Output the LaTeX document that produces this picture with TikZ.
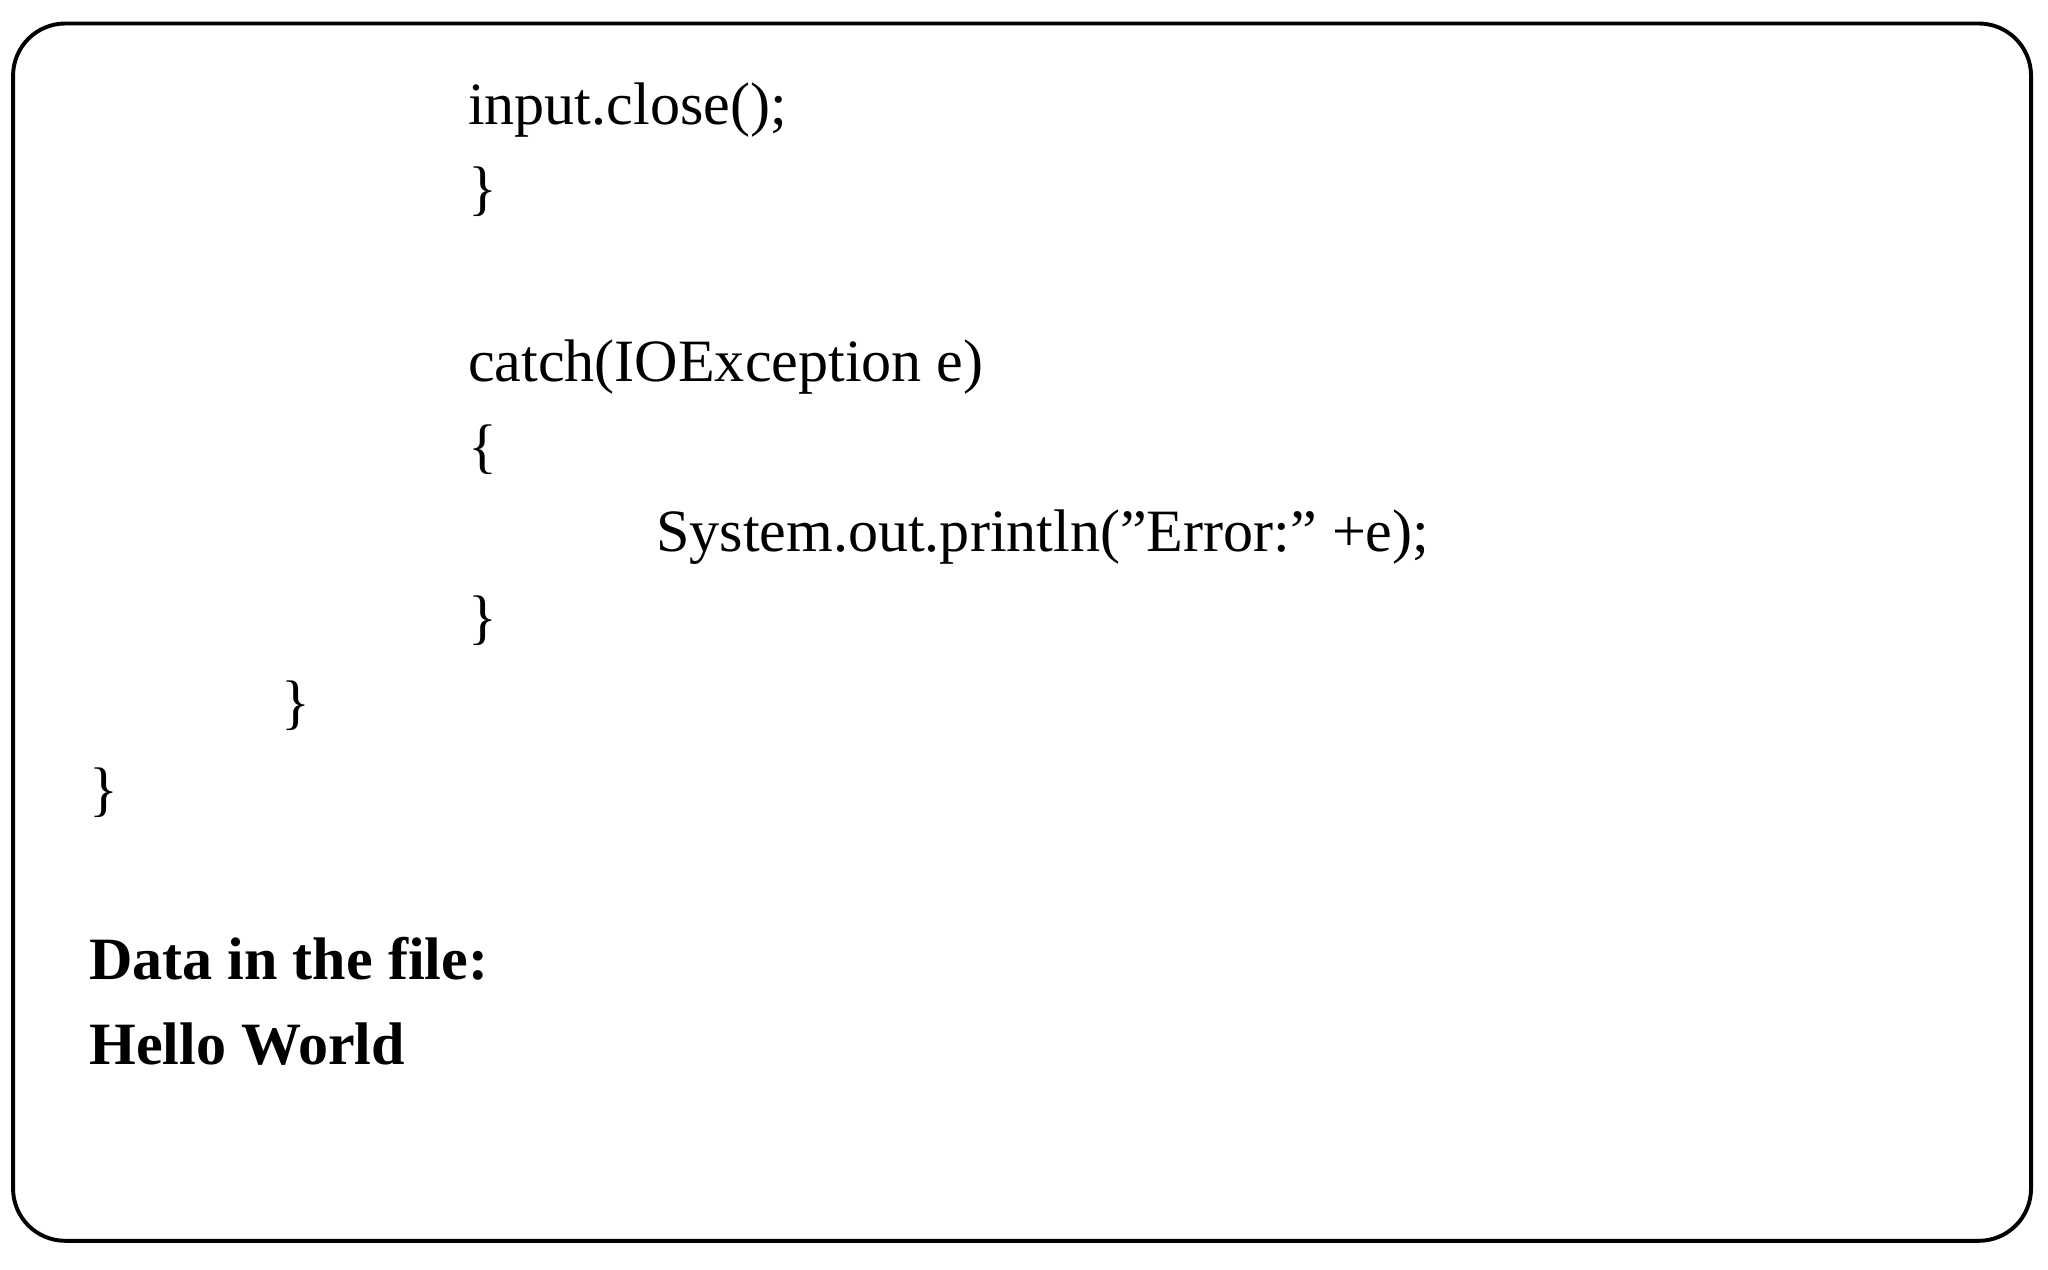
\documentclass[tikz,border=0pt]{standalone}
\usepackage{fontspec}
\setmainfont{Liberation Serif}
\usetikzlibrary{positioning}

\begin{document}
\begin{tikzpicture}[x=0.5pt,y=-0.5pt,
    codeline/.style={anchor=base west,inner sep=0pt,font=\fontsize{23}{27}\selectfont},
    boldline/.style={codeline,font=\fontsize{23}{27}\selectfont\bfseries}]
        \useasboundingbox (0,0) rectangle (1568,972);
        \draw[line width=1.5pt,rounded corners=20pt] (10,18) rectangle (1555,950);

        \node[codeline] (l_1) at (358,95) {input.close();};
        \node[codeline] (l_2) at (358,160) {\}};
        \node[codeline] (l_3) at (358,292) {catch(IOException e)};
        \node[codeline] (l_4) at (358,357) {\{};
        \node[codeline] (l_5) at (502,422) {System.out.println("Error:" +e);};
        \node[codeline] (l_6) at (358,488) {\}};
        \node[codeline] (l_7) at (215,553) {\}};
        \node[codeline] (l_8) at (68,620) {\}};

        \node[boldline] (d_1) at (68,750) {Data in the file:};
        \node[boldline] (d_2) at (68,815) {Hello World};
    \end{tikzpicture}
\end{document}
